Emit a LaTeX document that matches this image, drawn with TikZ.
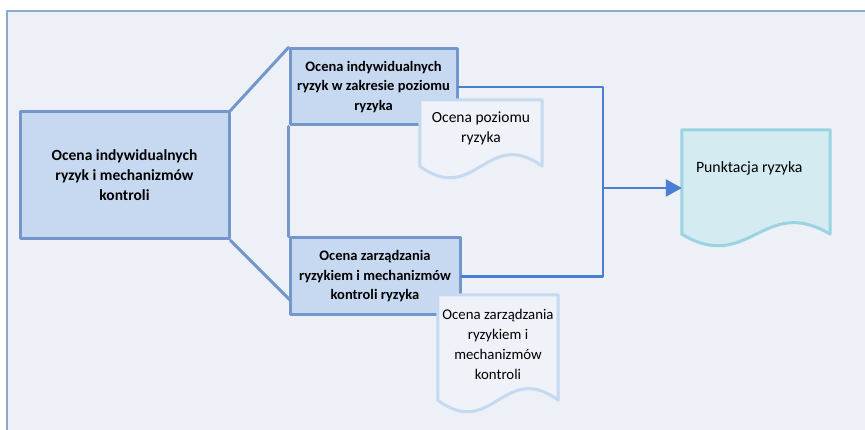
\documentclass[tikz,border=0pt]{standalone}
\usepackage{fontspec}
\setmainfont{Carlito}
\usetikzlibrary{arrows.meta,calc}

\definecolor{panelfill}{HTML}{EDF0F6}
\definecolor{panelline}{HTML}{8DA9D1}
\definecolor{boxfill}{HTML}{C6D9F1}
\definecolor{boxline}{HTML}{7397CB}
\definecolor{connline}{HTML}{4A7FD6}
\definecolor{docfill}{HTML}{EFF2F8}
\definecolor{docline}{HTML}{C5D9F1}
\definecolor{scorefill}{HTML}{D3EBF1}
\definecolor{scoreline}{HTML}{9BD3E1}

% document outline round a named node:
% #1 node, #2 style, #3 extra depth of the wave, #4 width
\newcommand{\dokument}[4]{%
  \draw[#2] (#1.north west) -- (#1.north east) -- ($(#1.south east)+(0,#3)$)
    .. controls +(-0.45*#4,-40) and +(0.45*#4,40)
    .. ($(#1.south west)+(0,#3)$) -- cycle;}

\tikzset{
  boxtext/.style={font=\bfseries\fontsize{14.5}{19.5}\selectfont, align=center},
  doctext/.style={font=\fontsize{15.5}{20}\selectfont, align=center, inner sep=0pt},
  mainbox/.style={boxtext, draw=boxline, fill=boxfill, line width=3pt, inner sep=2pt},
  link/.style={draw=boxline, line width=3pt},
  conn/.style={draw=connline, line width=2.6pt},
  docshape/.style={draw=docline, fill=docfill, line width=3pt, line join=round},
  scoreshape/.style={draw=scoreline, fill=scorefill, line width=3pt, line join=round}
}

\begin{document}
\begin{tikzpicture}[x=1pt, y=-1pt, line cap=round, line join=round]

\useasboundingbox (0,0) rectangle (865,430);

% -----------------------
% Panel
% -----------------------
\fill[white] (0,0) rectangle (865,430);
\fill[panelfill] (7,11) rectangle (865,430);
\draw[panelline, line width=2.5pt] (7,430) -- (7,11) -- (865,11);

% -----------------------
% Boxes
% -----------------------
\node[mainbox, minimum width=209pt, minimum height=127pt,
      font=\bfseries\fontsize{15.5}{20}\selectfont] (ocena) at (124.5,175.5)
  {Ocena indywidualnych\\ryzyk i mechanizmów\\kontroli};
\node[mainbox, minimum width=167pt, minimum height=76pt] (poziom) at (373.5,87)
  {Ocena indywidualnych\\ryzyk w zakresie poziomu\\ryzyka};
\node[mainbox, minimum width=170pt, minimum height=77pt] (zarzad) at (375,276.5)
  {Ocena zarządzania\\ryzykiem i mechanizmów\\kontroli ryzyka};

% links from the main box
\coordinate (zlewy) at (290,300);
\draw[link] (ocena.north east) -- (poziom.north west);
\draw[link] (ocena.south east) -- (zlewy);
\draw[link] (poziom.south west) -- (zarzad.north west);

% -----------------------
% Connectors to the score
% -----------------------
\coordinate (szyna) at (603,188);
\draw[conn] (poziom.east) -| (szyna) |- (zarzad.east);

% -----------------------
% Documents
% -----------------------
\node[doctext, minimum width=122pt, minimum height=56pt] (poziomdoc) at (481,128) {};
\dokument{poziomdoc}{docshape}{10}{122}
\node[doctext] at (poziomdoc.center) {Ocena poziomu\\ryzyka};

\node[doctext, minimum width=120pt, minimum height=98pt] (zarzaddoc) at (498,344) {};
\dokument{zarzaddoc}{docshape}{7}{120}
\node[doctext, font=\fontsize{14.8}{20}\selectfont] at (zarzaddoc.center)
  {Ocena zarządzania\\ryzykiem i\\mechanizmów\\kontroli};

\node[minimum width=148pt, minimum height=76pt, inner sep=0pt] (punkt) at (756,168) {};
\dokument{punkt}{scoreshape}{28}{148}
\node[font=\fontsize{15.8}{20}\selectfont, anchor=west, inner sep=0pt] (punkttxt)
  at ($(punkt.west)+(14,0)$) {Punktacja ryzyka};

\draw[conn, -{Triangle[length=16pt,width=17pt]}] (szyna) -- (punkt.west |- szyna);

\end{tikzpicture}
\end{document}
